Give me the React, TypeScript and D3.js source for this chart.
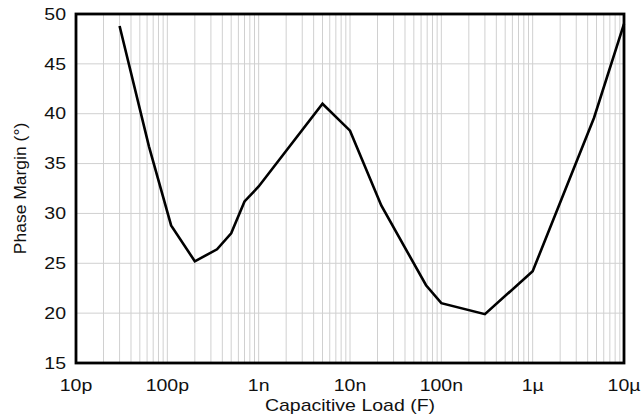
import React from 'react'
import * as d3 from 'd3'

// capacitive load (F) vs phase margin (deg)
const loads = [30e-12, 63e-12, 110e-12, 200e-12, 350e-12, 500e-12, 700e-12, 1e-9, 5e-9, 10e-9, 22e-9, 68e-9, 100e-9, 300e-9, 1e-6, 4.7e-6, 10e-6]
const phase = [48.8, 36.7, 28.8, 25.2, 26.4, 28.0, 31.2, 32.7, 41.0, 38.3, 30.8, 22.8, 21.0, 19.9, 24.2, 39.6, 49.0]
const xTicks = [1e-11, 1e-10, 1e-9, 1e-8, 1e-7, 1e-6, 1e-5]
const xTickLabels = ['10p', '100p', '1n', '10n', '100n', '1\u00b5', '10\u00b5']
const yTicks = [15, 20, 25, 30, 35, 40, 45, 50]

const W = 643
const H = 419
const m = { left: 76, right: 19, top: 14, bottom: 56 }
const font = 'Arial, "Liberation Sans", sans-serif'
const sx = 1.22

export default function App() {
  const x = d3.scaleLog().domain([1e-11, 1e-5]).range([m.left, W - m.right])
  const y = d3.scaleLinear().domain([15, 50]).range([H - m.bottom, m.top])

  // minor grid: 1..9 in each decade
  const vGrid: number[] = []
  for (let e = -11; e < -5; e++) {
    for (let k = 1; k <= 9; k++) vGrid.push(k * Math.pow(10, e))
  }

  const line = d3.line<number>()
    .x((d, i) => x(loads[i]))
    .y((d) => y(d))

  return (
    <svg width={W} height={H} style={{ position: 'absolute', left: 0, top: 0 }}>
      <rect width={W} height={H} fill="#fff" />
      <g stroke="#d0d0d0" strokeWidth={1}>
        {vGrid.map((v, i) => (
          <line key={'v' + i} x1={x(v)} x2={x(v)} y1={y(50)} y2={y(15)} />
        ))}
        {yTicks.map((t) => (
          <line key={'h' + t} x1={x(1e-11)} x2={x(1e-5)} y1={y(t)} y2={y(t)} />
        ))}
      </g>
      <path d={line(phase) || ''} fill="none" stroke="#000" strokeWidth={2.6} strokeLinejoin="miter" />
      <rect x={x(1e-11)} y={y(50)} width={x(1e-5) - x(1e-11)} height={y(15) - y(50)}
        fill="none" stroke="#000" strokeWidth={2.8} />
      <g fontFamily={font} fontSize={16} fill="#111">
        {yTicks.map((t) => (
          <text key={'yl' + t} transform={`translate(66,${y(t)}) scale(${sx},1)`} textAnchor="end" dy="0.36em">{t}</text>
        ))}
        {xTicks.map((t, i) => (
          <text key={'xl' + t} transform={`translate(${x(t)},391) scale(${sx},1)`} textAnchor="middle">{xTickLabels[i]}</text>
        ))}
        <text transform={`translate(${(m.left + W - m.right) / 2},411) scale(${sx},1)`} textAnchor="middle">Capacitive Load (F)</text>
      </g>
      <text fontFamily={font} fontSize={17} fill="#111" textAnchor="middle"
        transform={`translate(26,${(y(50) + y(15)) / 2}) rotate(-90) scale(1.03,1)`}>Phase Margin (°)</text>
    </svg>
  )
}
